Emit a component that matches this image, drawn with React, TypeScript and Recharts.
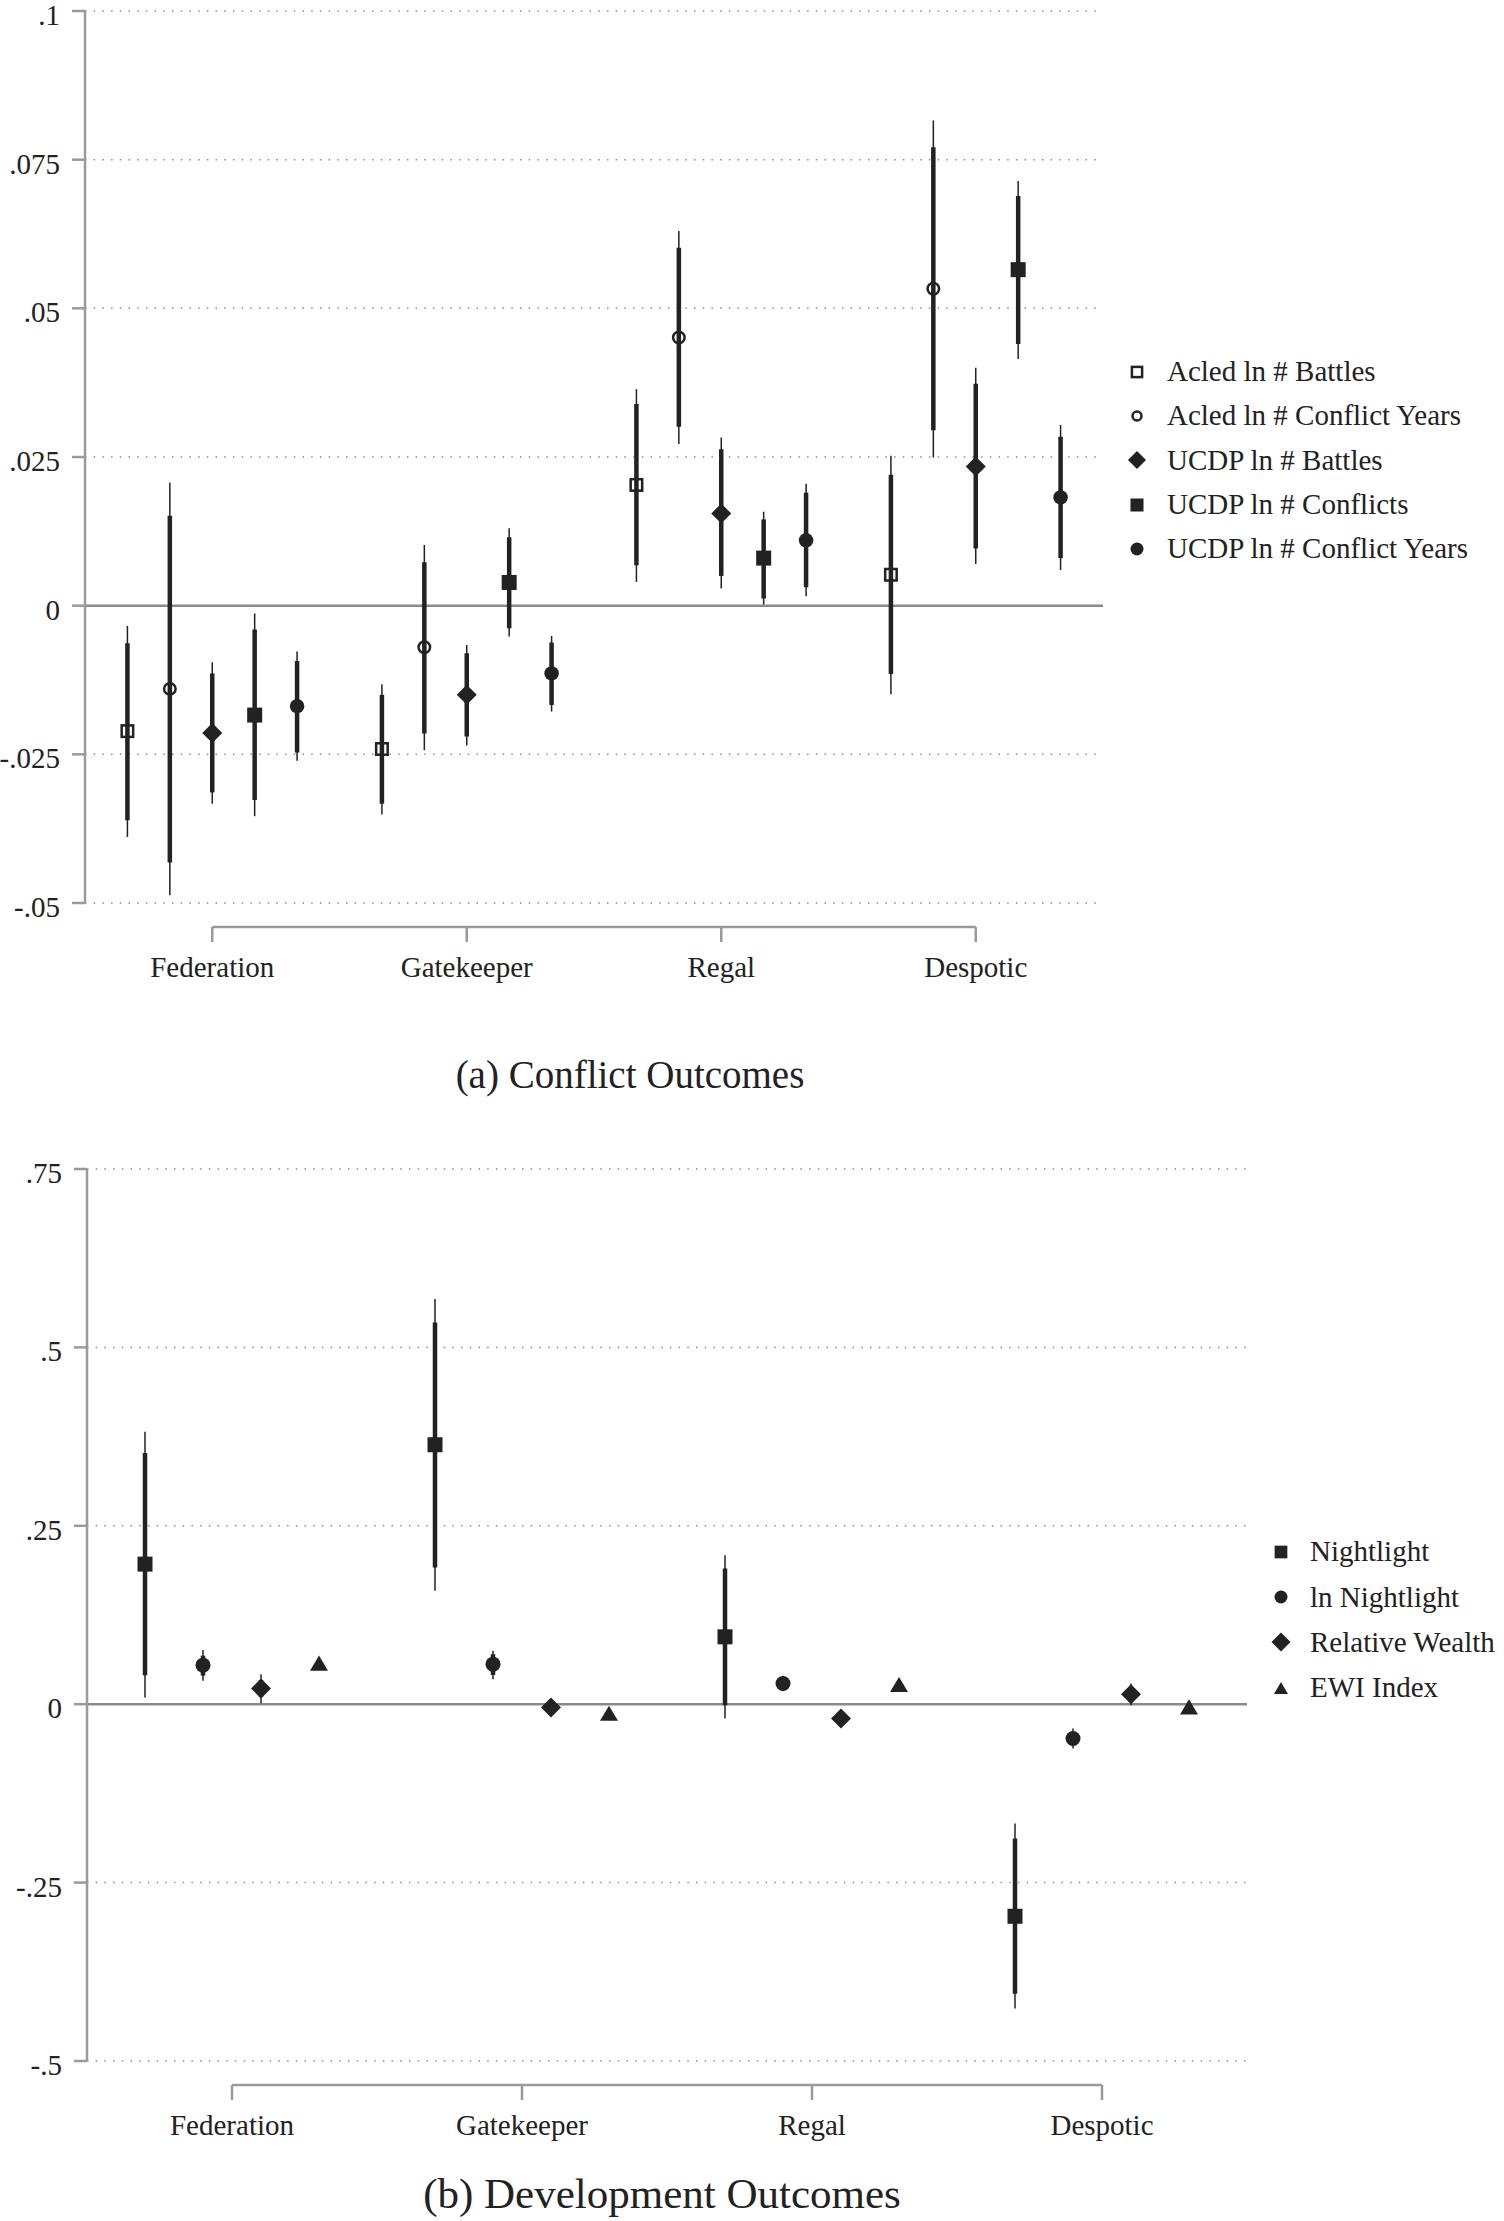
import React from "react";
import {
  ScatterChart,
  Scatter,
  XAxis,
  YAxis,
  CartesianGrid,
  ErrorBar,
  ReferenceLine,
  Legend,
} from "recharts";

const FONT = '"Liberation Serif", "Times New Roman", Times, serif';
const INK = "#222222";
const AXIS = "#9a9a9a";
const GRID = "#8c8c8c";
const ZERO = "#8a8a8a";

// ---------- shared categories ----------
const categories = ["Federation", "Gatekeeper", "Regal", "Despotic"];
const categoryPositions = [1, 2, 3, 4];

// ---------- panel (a): conflict outcomes ----------
const conflictTickValues = [-0.05, -0.025, 0, 0.025, 0.05, 0.075, 0.1];
const conflictTickLabels = ["-.05", "-.025", "0", ".025", ".05", ".075", ".1"];

const acledBattlesEst = [-0.0211, -0.0241, 0.0203, 0.0052];
const acledBattlesCi90 = [[-0.0361, -0.0063], [-0.0333, -0.015], [0.0068, 0.0339], [-0.0115, 0.022]];
const acledBattlesCi95 = [[-0.0389, -0.0034], [-0.0351, -0.0132], [0.004, 0.0364], [-0.0149, 0.0252]];

const acledYearsEst = [-0.014, -0.007, 0.0451, 0.0533];
const acledYearsCi90 = [[-0.0432, 0.0151], [-0.0215, 0.0073], [0.0301, 0.0602], [0.0295, 0.0771]];
const acledYearsCi95 = [[-0.0487, 0.0207], [-0.0243, 0.0102], [0.0272, 0.063], [0.0249, 0.0816]];

const ucdpBattlesEst = [-0.0214, -0.015, 0.0155, 0.0234];
const ucdpBattlesCi90 = [[-0.0314, -0.0114], [-0.022, -0.008], [0.005, 0.0263], [0.0096, 0.0373]];
const ucdpBattlesCi95 = [[-0.0333, -0.0095], [-0.0235, -0.0066], [0.0029, 0.0283], [0.007, 0.04]];

const ucdpConflictsEst = [-0.0184, 0.0039, 0.008, 0.0565];
const ucdpConflictsCi90 = [[-0.0327, -0.004], [-0.0038, 0.0115], [0.0012, 0.0145], [0.044, 0.0689]];
const ucdpConflictsCi95 = [[-0.0354, -0.0013], [-0.0052, 0.013], [0.0002, 0.0158], [0.0415, 0.0714]];

const ucdpYearsEst = [-0.0169, -0.0114, 0.011, 0.0182];
const ucdpYearsCi90 = [[-0.0247, -0.0093], [-0.0167, -0.0062], [0.0031, 0.019], [0.008, 0.0284]];
const ucdpYearsCi95 = [[-0.0261, -0.0077], [-0.0178, -0.0051], [0.0016, 0.0205], [0.006, 0.0304]];

// ---------- panel (b): development outcomes ----------
const devTickValues = [-0.5, -0.25, 0, 0.25, 0.5, 0.75];
const devTickLabels = ["-.5", "-.25", "0", ".25", ".5", ".75"];

const nightlightEst = [0.1963, 0.3636, 0.0944, -0.2972];
const nightlightCi90 = [[0.0407, 0.3519], [0.1916, 0.535], [-0.0014, 0.19], [-0.4056, -0.1883]];
const nightlightCi95 = [[0.0093, 0.3818], [0.1589, 0.5678], [-0.0201, 0.2089], [-0.4266, -0.1673]];

const lnNightlightEst = [0.0547, 0.0561, 0.029, -0.0481];
const lnNightlightCi90 = [[0.04, 0.068], [0.041, 0.07], [0.022, 0.036], [-0.058, -0.039]];
const lnNightlightCi95 = [[0.033, 0.076], [0.035, 0.075], [0.018, 0.04], [-0.062, -0.034]];

const relWealthEst = [0.022, -0.0047, -0.0201, 0.014];
const relWealthCi90 = [[0.01, 0.034], [-0.01, 0.001], [-0.025, -0.015], [0.004, 0.024]];
const relWealthCi95 = [[0.0014, 0.042], [-0.012, 0.003], [-0.027, -0.013], [-0.0014, 0.029]];

const ewiEst = [0.0575, -0.0126, 0.0276, -0.0037];
const ewiCi90 = [[0.055, 0.06], [-0.015, -0.01], [0.025, 0.03], [-0.006, -0.001]];
const ewiCi95 = [[0.054, 0.061], [-0.016, -0.009], [0.024, 0.031], [-0.007, 0.0]];

// ---------- helpers ----------
type Pair = number[];
function buildPoints(est: number[], ci90: Pair[], ci95: Pair[], offset: number) {
  return est.map((y, i) => ({
    x: categoryPositions[i] + offset,
    y,
    e90: [y - ci90[i][0], ci90[i][1] - y],
    e95: [y - ci95[i][0], ci95[i][1] - y],
  }));
}

function MarkerShape({ kind, cx, cy, size }: { kind: string; cx: number; cy: number; size: number }) {
  if (cx == null || cy == null) return null;
  switch (kind) {
    case "squareOpen": {
      const sw = 2.5;
      const s = size - sw;
      return <rect x={cx - s / 2} y={cy - s / 2} width={s} height={s} fill="none" stroke={INK} strokeWidth={sw} />;
    }
    case "circleOpen": {
      const sw = 2.5;
      return <circle cx={cx} cy={cy} r={(size - sw) / 2} fill="none" stroke={INK} strokeWidth={sw} />;
    }
    case "diamond": {
      const h = size / 2;
      return <polygon points={`${cx},${cy - h} ${cx + h},${cy} ${cx},${cy + h} ${cx - h},${cy}`} fill={INK} />;
    }
    case "square":
      return <rect x={cx - size / 2} y={cy - size / 2} width={size} height={size} fill={INK} />;
    case "circle":
      return <circle cx={cx} cy={cy} r={size / 2} fill={INK} />;
    case "triangle": {
      const w = size;
      const h = size * 0.84;
      return <polygon points={`${cx},${cy - h / 2} ${cx + w / 2},${cy + h / 2} ${cx - w / 2},${cy + h / 2}`} fill={INK} />;
    }
    default:
      return null;
  }
}

const conflictSeries = [
  { name: "Acled ln # Battles", marker: "squareOpen", size: 14, legendSize: 12.7, data: buildPoints(acledBattlesEst, acledBattlesCi90, acledBattlesCi95, -1 / 3) },
  { name: "Acled ln # Conflict Years", marker: "circleOpen", size: 14, legendSize: 11.5, data: buildPoints(acledYearsEst, acledYearsCi90, acledYearsCi95, -1 / 6) },
  { name: "UCDP ln # Battles", marker: "diamond", size: 20, legendSize: 18, data: buildPoints(ucdpBattlesEst, ucdpBattlesCi90, ucdpBattlesCi95, 0) },
  { name: "UCDP ln # Conflicts", marker: "square", size: 15, legendSize: 13, data: buildPoints(ucdpConflictsEst, ucdpConflictsCi90, ucdpConflictsCi95, 1 / 6) },
  { name: "UCDP ln # Conflict Years", marker: "circle", size: 14.5, legendSize: 13, data: buildPoints(ucdpYearsEst, ucdpYearsCi90, ucdpYearsCi95, 1 / 3) },
];

const devSeries = [
  { name: "Nightlight", marker: "square", size: 15, legendSize: 12.7, data: buildPoints(nightlightEst, nightlightCi90, nightlightCi95, -0.3) },
  { name: "ln Nightlight", marker: "circle", size: 15, legendSize: 13, data: buildPoints(lnNightlightEst, lnNightlightCi90, lnNightlightCi95, -0.1) },
  { name: "Relative Wealth", marker: "diamond", size: 20, legendSize: 19, data: buildPoints(relWealthEst, relWealthCi90, relWealthCi95, 0.1) },
  { name: "EWI Index", marker: "triangle", size: 18, legendSize: 14, data: buildPoints(ewiEst, ewiCi90, ewiCi95, 0.3) },
];

const AXIS_GAP = 24;
const X_TICK_LEN = 15;
const X_LABEL_DY = 74;

const CategoryTick = (props: any) => {
  const { x, y, payload } = props;
  const idx = categoryPositions.indexOf(payload.value);
  return (
    <g>
      <line x1={x} x2={x} y1={y + AXIS_GAP} y2={y + AXIS_GAP + X_TICK_LEN} stroke={AXIS} strokeWidth={2.5} />
      <text x={x} y={y + X_LABEL_DY} textAnchor="middle" fontFamily={FONT} fontSize={29} fill={INK}>
        {categories[idx]}
      </text>
    </g>
  );
};

const makeValueTick = (fmt: (v: number) => string) => (props: any) => {
  const { x, y, payload } = props;
  return (
    <text x={x} y={y} dy={14} textAnchor="end" fontFamily={FONT} fontSize={29} fill={INK}>
      {fmt(payload.value)}
    </text>
  );
};

function LegendBox({ items, rowHeight, gap }: { items: any[]; rowHeight: number; gap: number }) {
  return (
    <div style={{ fontFamily: FONT, fontSize: 29, color: INK }}>
      {items.map((it) => (
        <div key={it.name} style={{ display: "flex", alignItems: "center", height: rowHeight, whiteSpace: "nowrap" }}>
          <svg width={30} height={30} style={{ flex: "none", display: "block" }}>
            <MarkerShape kind={it.marker} cx={15} cy={15} size={it.legendSize} />
          </svg>
          <span style={{ marginLeft: gap, lineHeight: 1 }}>{it.name}</span>
        </div>
      ))}
    </div>
  );
}

type PanelProps = {
  series: any[];
  tickValues: number[];
  tickLabels: string[];
  domain: [number, number];
  height: number;
  margin: { top: number; right: number; bottom: number; left: number };
  yAxisWidth: number;
  legendStyle: React.CSSProperties;
  legendRow: number;
  legendGap: number;
};

function Panel(p: PanelProps) {
  const plotHeight = p.height - p.margin.top - p.margin.bottom - 90;
  const axisLineValue = p.domain[0] - (AXIS_GAP * (p.domain[1] - p.domain[0])) / plotHeight;
  const fmt = (v: number) => {
    const i = p.tickValues.findIndex((t) => Math.abs(t - v) < 1e-9);
    return i >= 0 ? p.tickLabels[i] : String(v);
  };
  const ValueTick = makeValueTick(fmt);
  return (
    <ScatterChart width={1504} height={p.height} margin={p.margin}>
      <CartesianGrid horizontal vertical={false} stroke={GRID} strokeDasharray="1.5 7.2" strokeWidth={1.5} />
      <XAxis
        type="number"
        dataKey="x"
        domain={[0.5, 4.5]}
        allowDataOverflow
        ticks={categoryPositions}
        interval={0}
        axisLine={false}
        tickLine={false}
        tickSize={0}
        tickMargin={0}
        height={90}
        tick={<CategoryTick />}
      />
      <YAxis
        type="number"
        dataKey="y"
        domain={p.domain}
        allowDataOverflow
        ticks={p.tickValues}
        interval={0}
        width={p.yAxisWidth}
        tickSize={13}
        tickMargin={12}
        axisLine={{ stroke: AXIS, strokeWidth: 2.5 }}
        tickLine={{ stroke: AXIS, strokeWidth: 2.5 }}
        tick={<ValueTick />}
      />
      <ReferenceLine y={0} stroke={ZERO} strokeWidth={2.5} />
      <ReferenceLine
        segment={[
          { x: categoryPositions[0], y: axisLineValue },
          { x: categoryPositions[categoryPositions.length - 1], y: axisLineValue },
        ]}
        ifOverflow="visible"
        stroke={AXIS}
        strokeWidth={2.5}
      />
      {p.series.map((s) => (
        <Scatter
          key={s.name}
          name={s.name}
          data={s.data}
          isAnimationActive={false}
          shape={(props: any) => <MarkerShape kind={s.marker} cx={props.cx} cy={props.cy} size={s.size} />}
        >
          <ErrorBar dataKey="e95" direction="y" width={0} stroke={INK} strokeWidth={1.5} isAnimationActive={false} />
          <ErrorBar dataKey="e90" direction="y" width={0} stroke={INK} strokeWidth={4.5} isAnimationActive={false} />
        </Scatter>
      ))}
      <Legend
        layout="vertical"
        align="center"
        verticalAlign="middle"
        wrapperStyle={p.legendStyle}
        content={() => <LegendBox items={p.series} rowHeight={p.legendRow} gap={p.legendGap} />}
      />
    </ScatterChart>
  );
}

export default function App() {
  return (
    <div style={{ position: "absolute", left: 0, top: 0, width: 1504, height: 2221, background: "#ffffff", overflow: "hidden" }}>
      <div style={{ position: "absolute", left: 0, top: 0 }}>
        <Panel
          series={conflictSeries}
          tickValues={conflictTickValues}
          tickLabels={conflictTickLabels}
          domain={[-0.05, 0.1]}
          height={1000}
          margin={{ top: 11, right: 401, bottom: 7, left: 0 }}
          yAxisWidth={85}
          legendStyle={{ left: 1122, top: 349.5, width: 380 }}
          legendRow={44.3}
          legendGap={15}
        />
      </div>
      <div style={{ position: "absolute", left: 0, top: 1100 }}>
        <Panel
          series={devSeries}
          tickValues={devTickValues}
          tickLabels={devTickLabels}
          domain={[-0.5, 0.75]}
          height={1121}
          margin={{ top: 69, right: 257, bottom: 70, left: 0 }}
          yAxisWidth={87}
          legendStyle={{ left: 1266, top: 429, width: 238 }}
          legendRow={45.4}
          legendGap={14}
        />
      </div>
      <svg width={1504} height={2221} style={{ position: "absolute", left: 0, top: 0, pointerEvents: "none" }}>
        <text x={630} y={1088} textAnchor="middle" fontFamily={FONT} fontSize={39} fill={INK}>
          (a) Conflict Outcomes
        </text>
        <text x={662} y={2208} textAnchor="middle" fontFamily={FONT} fontSize={43} fill={INK}>
          (b) Development Outcomes
        </text>
      </svg>
    </div>
  );
}
